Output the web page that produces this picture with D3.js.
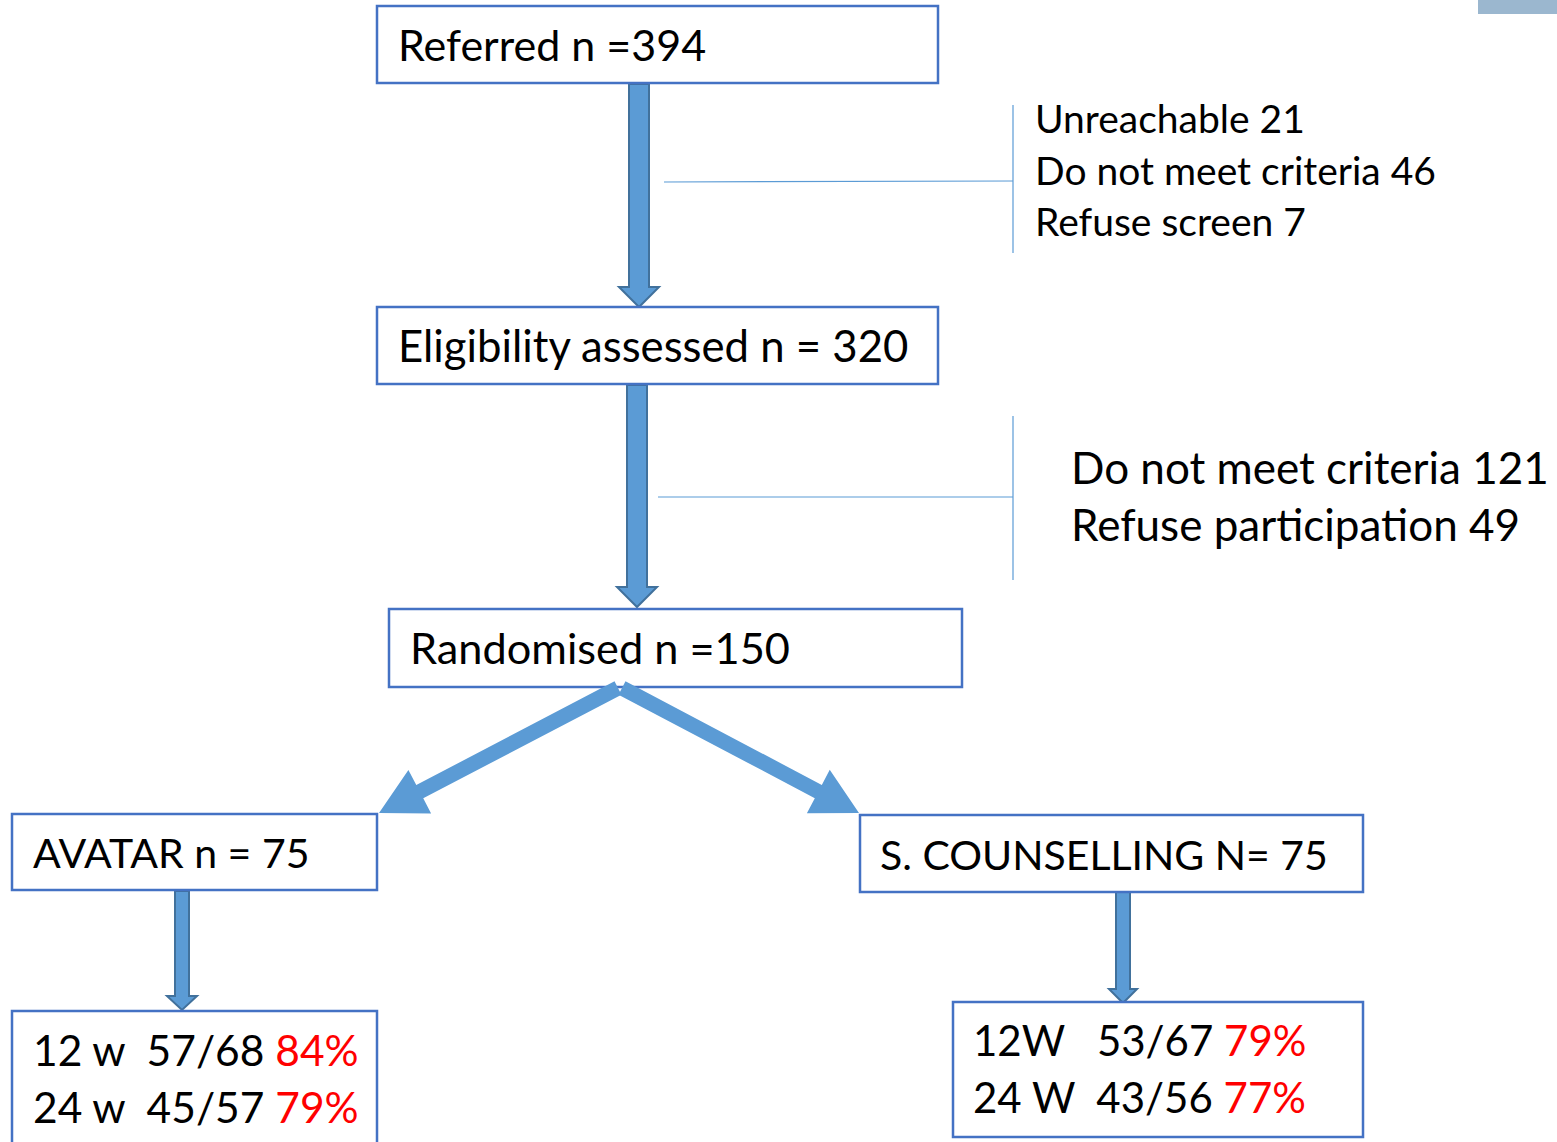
<!DOCTYPE html>
<html>
<head>
<meta charset="utf-8">
<script src="https://cdn.jsdelivr.net/npm/d3@7"></script>
<style>
  html, body { margin: 0; padding: 0; background: #fff; }
  svg { display: block; }
</style>
</head>
<body>
<script>
// flow labels
const stageLabels = ['Referred n =394', 'Eligibility assessed n = 320', 'Randomised n =150'];
const armLabels = ['AVATAR n = 75', 'S. COUNSELLING N= 75'];
const exclusions1 = ['Unreachable 21', 'Do not meet criteria 46', 'Refuse screen 7'];
const exclusions2 = ['Do not meet criteria 121', 'Refuse participation 49'];
const avatarFollow = [['12 w  57/68 ', '84%'], ['24 w  45/57 ', '79%']];
const counsFollow = [['12W   53/67 ', '79%'], ['24 W  43/56 ', '77%']];

const W = 1557, H = 1142;
const FONT = 'Lato, "Open Sans", sans-serif';
const BOX_STROKE = '#4472C4';
const ARROW_FILL = '#5B9BD5';
const ARROW_STROKE = '#41719C';

const svg = d3.select('body').append('svg')
    .attr('width', W)
    .attr('height', H);

// layout of the boxes
const boxes = [
    { x: 377, y: 6, w: 561, h: 77 },
    { x: 377, y: 307, w: 561, h: 77 },
    { x: 389, y: 609, w: 573, h: 78 },
    { x: 12, y: 814, w: 365, h: 76 },
    { x: 860, y: 815, w: 503, h: 77 },
    { x: 12, y: 1011, w: 365, h: 140 },
    { x: 953, y: 1002, w: 410, h: 135 }
];

// block arrow polygon from start to tip
function blockArrow(x1, y1, x2, y2, shaftW, headW, headL) {
    const dx = x2 - x1, dy = y2 - y1;
    const len = Math.hypot(dx, dy);
    const ux = dx / len, uy = dy / len;
    const px = -uy, py = ux;
    const bx = x2 - ux * headL, by = y2 - uy * headL;
    const pts = [
        [x1 + px * shaftW / 2, y1 + py * shaftW / 2],
        [bx + px * shaftW / 2, by + py * shaftW / 2],
        [bx + px * headW / 2, by + py * headW / 2],
        [x2, y2],
        [bx - px * headW / 2, by - py * headW / 2],
        [bx - px * shaftW / 2, by - py * shaftW / 2],
        [x1 - px * shaftW / 2, y1 - py * shaftW / 2]
    ];
    return 'M' + pts.map(p => p.join(',')).join('L') + 'Z';
}

// top-right decoration
svg.append('rect')
    .attr('x', 1478).attr('y', 0)
    .attr('width', 79).attr('height', 14)
    .attr('fill', '#9BB7CF');

// side brackets
const brackets = [
    { x: 1013, y1: 105, y2: 253, hx: 664, hy1: 182, hy2: 181 },
    { x: 1013, y1: 416, y2: 580, hx: 658, hy1: 497, hy2: 497 }
];
brackets.forEach(b => {
    svg.append('line')
        .attr('x1', b.x).attr('x2', b.x)
        .attr('y1', b.y1).attr('y2', b.y2)
        .attr('stroke', ARROW_FILL).attr('stroke-width', 1.2);
    svg.append('line')
        .attr('x1', b.hx).attr('x2', b.x)
        .attr('y1', b.hy1).attr('y2', b.hy2)
        .attr('stroke', ARROW_FILL).attr('stroke-width', 1.2);
});

// vertical arrows
const vArrows = [
    { x: 639, y1: 84, y2: 307, sw: 20, hw: 40, hl: 20 },
    { x: 637, y1: 385, y2: 607, sw: 20, hw: 40, hl: 20 },
    { x: 182, y1: 891, y2: 1010, sw: 14, hw: 30, hl: 14 },
    { x: 1123, y1: 892, y2: 1003, sw: 14, hw: 28, hl: 14 }
];
vArrows.forEach(a => {
    svg.append('path')
        .attr('d', blockArrow(a.x, a.y1, a.x, a.y2, a.sw, a.hw, a.hl))
        .attr('fill', ARROW_FILL)
        .attr('stroke', ARROW_STROKE)
        .attr('stroke-width', 2)
        .attr('stroke-linejoin', 'miter');
});

// boxes
svg.selectAll('rect.box')
    .data(boxes)
    .join('rect')
    .attr('class', 'box')
    .attr('x', d => d.x).attr('y', d => d.y)
    .attr('width', d => d.w).attr('height', d => d.h)
    .attr('fill', '#fff')
    .attr('stroke', BOX_STROKE)
    .attr('stroke-width', 2.5);

// diagonal arrows from randomisation
const diagArrows = [
    { x1: 618, y1: 688, x2: 379, y2: 813 },
    { x1: 622, y1: 688, x2: 859, y2: 813 }
];
diagArrows.forEach(a => {
    svg.append('path')
        .attr('d', blockArrow(a.x1, a.y1, a.x2, a.y2, 15, 49, 46))
        .attr('fill', ARROW_FILL);
});

function label(x, y, size, text, fill) {
    return svg.append('text')
        .attr('x', x).attr('y', y)
        .attr('font-family', FONT)
        .attr('font-size', size)
        .attr('fill', fill || '#000')
        .text(text);
}

// box texts
const stagePos = [[398, 61], [398, 362], [410, 664]];
const stageSize = [43, 43.7, 43.3];
stageLabels.forEach((t, i) => label(stagePos[i][0], stagePos[i][1], stageSize[i], t));
const armPos = [[33, 868], [880, 870]];
armLabels.forEach((t, i) => label(armPos[i][0], armPos[i][1], 41, t));

exclusions1.forEach((t, i) => label(1035, 133 + i * 51.5, 39, t));
exclusions2.forEach((t, i) => label(1071, 484 + i * 57, 44, t));

function followText(x, y0, size, rows) {
    rows.forEach((r, i) => {
        const t = svg.append('text')
            .attr('x', x).attr('y', y0 + i * 57)
            .attr('font-family', FONT)
            .attr('font-size', size)
            .attr('xml:space', 'preserve')
            .style('white-space', 'pre');
        t.append('tspan').attr('fill', '#000').text(r[0]);
        t.append('tspan').attr('fill', '#FF0000').text(r[1]);
    });
}
followText(33, 1066, 42.5, avatarFollow);
followText(973, 1056, 42, counsFollow);
</script>
</body>
</html>
